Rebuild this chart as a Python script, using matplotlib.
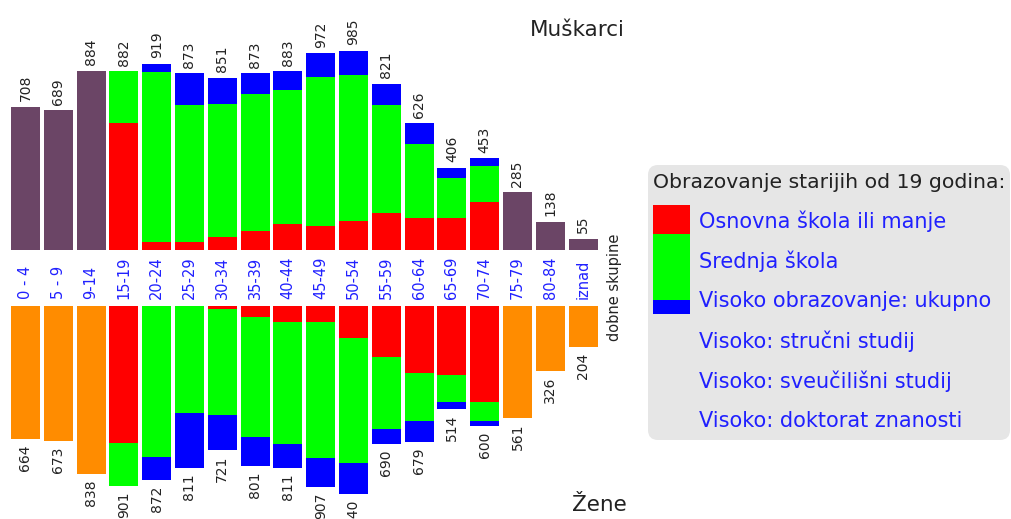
import matplotlib.pyplot as plt
from matplotlib.patches import FancyBboxPatch, Rectangle
import matplotlib.transforms as mtransforms

# dobne skupine
skupine = ['0 - 4', '5 - 9', '9-14', '15-19', '20-24', '25-29', '30-34', '35-39', '40-44',
           '45-49', '50-54', '55-59', '60-64', '65-69', '70-74', '75-79', '80-84', 'iznad']

# muskarci - ukupno po skupinama
muski_ukupno = [708, 689, 884, 882, 919, 873, 851, 873, 883, 972, 985, 821, 626, 406, 453, 285, 138, 55]
# zene - ukupno po skupinama
zene_ukupno = [664, 673, 838, 901, 872, 811, 721, 801, 811, 907, 940, 690, 679, 514, 600, 561, 326, 204]

# obrazovanje (skupine 15-19 do 70-74)
muski_osnovna = [626, 40, 39, 64, 92, 130, 117, 143, 182, 156, 156, 235]
muski_srednja = [256, 839, 677, 655, 676, 660, 736, 722, 534, 365, 199, 179]
muski_visoko = [0, 40, 157, 132, 105, 93, 119, 120, 105, 105, 51, 39]

zene_osnovna = [683, 0, 0, 17, 53, 80, 80, 161, 253, 333, 346, 480]
zene_srednja = [218, 756, 533, 528, 600, 612, 678, 625, 360, 240, 133, 93]
zene_visoko = [0, 116, 278, 176, 148, 119, 149, 154, 77, 106, 35, 27]

legenda = ['Osnovna škola ili manje', 'Srednja škola', 'Visoko obrazovanje: ukupno',
           'Visoko: stručni studij', 'Visoko: sveučilišni studij', 'Visoko: doktorat znanosti']

CRVENA = '#ff0000'
ZELENA = '#00ff00'
PLAVA = '#0000ff'
LJUBICASTA = '#6b4566'
NARANCASTA = '#ff8c00'
TEKST_PLAVI = '#2020ff'

W, H = 1011, 519
fig = plt.figure(figsize=(W / 100, H / 100), dpi=100)

# gornji dio (muskarci) i donji dio (zene)
ax_m = fig.add_axes([0, 269 / H, 620 / W, 250 / H])
ax_z = fig.add_axes([0, 0, 620 / W, 213 / H])

x = list(range(len(skupine)))
sir = 0.88
obr = list(range(3, 15))  # skupine s podacima o obrazovanju
ostali = [i for i in x if i not in obr]

# muskarci
ax_m.bar(ostali, [muski_ukupno[i] for i in ostali], width=sir, color=LJUBICASTA)
ax_m.bar(obr, muski_osnovna, width=sir, color=CRVENA)
dno = muski_osnovna
ax_m.bar(obr, muski_srednja, width=sir, bottom=dno, color=ZELENA)
dno = [a + b for a, b in zip(muski_osnovna, muski_srednja)]
ax_m.bar(obr, muski_visoko, width=sir, bottom=dno, color=PLAVA)

# zene
ax_z.bar(ostali, [zene_ukupno[i] for i in ostali], width=sir, color=NARANCASTA)
ax_z.bar(obr, zene_osnovna, width=sir, color=CRVENA)
dno = zene_osnovna
ax_z.bar(obr, zene_srednja, width=sir, bottom=dno, color=ZELENA)
dno = [a + b for a, b in zip(zene_osnovna, zene_srednja)]
ax_z.bar(obr, zene_visoko, width=sir, bottom=dno, color=PLAVA)

for ax in (ax_m, ax_z):
    ax.set_xlim(-25.5 / 32.8, (620 - 25.5) / 32.8)
    ax.axis('off')
ax_m.set_ylim(0, 250 / 0.2025)
ax_z.set_ylim(213 / 0.2, 0)  # obrnuto - stupci idu prema dolje

# vrijednosti iznad / ispod stupaca
for i in x:
    ax_m.annotate(str(muski_ukupno[i]), (i, muski_ukupno[i]), xytext=(0, 4), textcoords='offset points',
                  rotation=90, ha='center', va='bottom', fontsize=10, color='#222222')
    ax_z.annotate(str(zene_ukupno[i]), (i, zene_ukupno[i]), xytext=(0, -4), textcoords='offset points',
                  rotation=90, ha='center', va='top', fontsize=10, color='#222222',
                  annotation_clip=False)

# oznake skupina u sredini
tr = mtransforms.blended_transform_factory(ax_m.transData, fig.transFigure)
for i in x:
    ax_m.text(i, (H - 299) / H, skupine[i], transform=tr, rotation=90, ha='center', va='bottom',
              fontsize=10.5, color=TEKST_PLAVI)
ax_m.text((614 - 25.5) / 32.8, (H - 287) / H, 'dobne skupine', transform=tr, rotation=90,
          ha='center', va='center', fontsize=10.5, color='#222222')

fig.text(530 / W, (H - 30) / H, 'Muškarci', ha='left', va='center', fontsize=15.5, color='#222222')
fig.text(572 / W, (H - 505) / H, 'Žene', ha='left', va='center', fontsize=15.5, color='#222222')

# legenda
px = mtransforms.IdentityTransform()
fig.add_artist(FancyBboxPatch((648, H - 440), 362, 275, boxstyle='round,pad=0,rounding_size=10',
                              facecolor='#e6e6e6', edgecolor='none', transform=px))
fig.add_artist(Rectangle((653, H - 234), 37, 29, facecolor=CRVENA, edgecolor='none', transform=px))
fig.add_artist(Rectangle((653, H - 300), 37, 66, facecolor=ZELENA, edgecolor='none', transform=px))
fig.add_artist(Rectangle((653, H - 314), 37, 14, facecolor=PLAVA, edgecolor='none', transform=px))
fig.text(653 / W, (H - 183) / H, 'Obrazovanje starijih od 19 godina:', ha='left', va='center',
         fontsize=14.7, color='#222222')
for k, txt in enumerate(legenda):
    fig.text(699 / W, (H - 221 - 40 * k) / H, txt, ha='left', va='center', fontsize=15, color=TEKST_PLAVI)

plt.savefig('out.png', dpi=100)
plt.close()
